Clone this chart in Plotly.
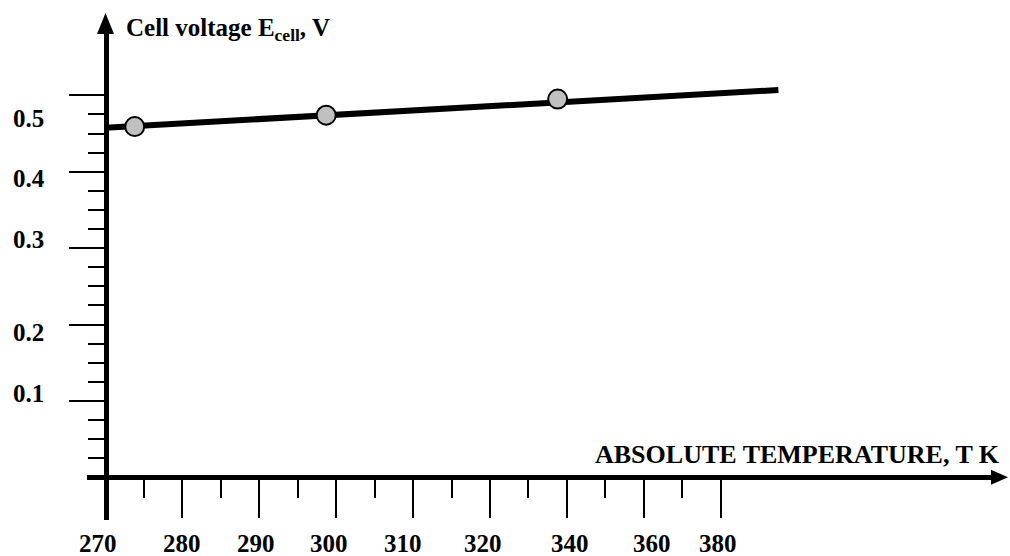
import plotly.graph_objects as go

# ---------------- data ----------------
temperature_k = [273.8, 298.7, 328.8]          # measured points (axis units)
cell_voltage_v = [0.459, 0.474, 0.495]
fit_temperature_k = [270.0, 357.5]              # straight line drawn through the points
fit_voltage_v = [0.4576, 0.5069]

x_tick_labels = ["270", "280", "290", "300", "310", "320", "340", "360", "380"]
y_tick_labels = ["0.1", "0.2", "0.3", "0.4", "0.5"]

x_major_ticks = [280, 290, 300, 310, 320, 330, 340, 350]
x_minor_ticks = [275, 285, 295, 305, 315, 325, 335, 345]
y_major_ticks = [0.1, 0.2, 0.3, 0.4, 0.5]
y_minor_ticks = [0.025, 0.05, 0.075, 0.125, 0.15, 0.175, 0.225, 0.25, 0.275,
                 0.325, 0.35, 0.375, 0.425, 0.45, 0.475]

# where the (hand-placed) labels sit on the drawing, in axis units
x_label_at = [269.0, 280.0, 289.6, 299.1, 308.7, 319.1, 330.4, 341.1, 349.7]
y_label_at = [0.110, 0.189, 0.311, 0.391, 0.470]

# ---------------- layout geometry ----------------
W, H = 1010, 556
X0_PX, X_PX_PER_UNIT = 105.5, 7.69     # 270 K sits on the vertical axis
Y0_PX, Y_PX_PER_UNIT = 477.3, 764.0    # 0 V sits on the horizontal axis
X_LEFT_PX, X_RIGHT_PX = 87.3, 993.0
Y_TOP_PX, Y_BOTTOM_PX = 33.0, 520.0

def px_x(p):
    return p / W

def px_y(p):
    return 1 - p / H

x_range = [270 + (X_LEFT_PX - X0_PX) / X_PX_PER_UNIT, 270 + (X_RIGHT_PX - X0_PX) / X_PX_PER_UNIT]
y_range = [(Y0_PX - Y_BOTTOM_PX) / Y_PX_PER_UNIT, (Y0_PX - Y_TOP_PX) / Y_PX_PER_UNIT]

FONT = "Liberation Serif, Times New Roman, serif"

fig = go.Figure()
fig.add_trace(go.Scatter(
    x=fit_temperature_k, y=fit_voltage_v, mode="lines",
    line=dict(color="black", width=6), hoverinfo="skip", showlegend=False,
))
fig.add_trace(go.Scatter(
    x=temperature_k, y=cell_voltage_v, mode="markers",
    marker=dict(size=19, color="#c0c0c0", line=dict(color="black", width=2)),
    showlegend=False,
))

fig.update_layout(
    width=W, height=H, margin=dict(l=0, r=0, t=0, b=0),
    paper_bgcolor="white", plot_bgcolor="white",
    font=dict(family=FONT, color="black"),
    xaxis=dict(
        domain=[px_x(X_LEFT_PX), px_x(X_RIGHT_PX)], range=x_range,
        anchor="free", position=px_y(Y0_PX),
        showline=True, linewidth=5, linecolor="black",
        showgrid=False, zeroline=False, showticklabels=False,
        tickmode="array", tickvals=x_major_ticks, ticks="outside",
        ticklen=38, tickwidth=2, tickcolor="black",
        minor=dict(tickmode="array", tickvals=x_minor_ticks, ticks="outside",
                   ticklen=18, tickwidth=2, tickcolor="black", showgrid=False),
        fixedrange=True,
    ),
    yaxis=dict(
        domain=[px_y(Y_BOTTOM_PX), px_y(Y_TOP_PX)], range=y_range,
        anchor="free", position=px_x(X0_PX),
        showline=True, linewidth=5, linecolor="black",
        showgrid=False, zeroline=False, showticklabels=False,
        tickmode="array", tickvals=y_major_ticks, ticks="outside",
        ticklen=35, tickwidth=2, tickcolor="black",
        minor=dict(tickmode="array", tickvals=y_minor_ticks, ticks="outside",
                   ticklen=16, tickwidth=2, tickcolor="black", showgrid=False),
        fixedrange=True,
    ),
)

# arrow heads
fig.add_shape(type="path", xref="paper", yref="paper", line=dict(width=0), fillcolor="black",
              path=f"M {px_x(X0_PX)},{px_y(13)} L {px_x(X0_PX - 8.5)},{px_y(34)} "
                   f"L {px_x(X0_PX + 8.5)},{px_y(34)} Z")
fig.add_shape(type="path", xref="paper", yref="paper", line=dict(width=0), fillcolor="black",
              path=f"M {px_x(1008)},{px_y(Y0_PX)} L {px_x(991)},{px_y(Y0_PX - 7.5)} "
                   f"L {px_x(991)},{px_y(Y0_PX + 7.5)} Z")

# tick labels
for lab, xv in zip(x_tick_labels, x_label_at):
    fig.add_annotation(x=xv, y=px_y(543), xref="x", yref="paper", text=f"<b>{lab}</b>",
                       showarrow=False, xanchor="center", yanchor="middle",
                       font=dict(size=25, family=FONT, color="black"))
for lab, yv in zip(y_tick_labels, y_label_at):
    fig.add_annotation(x=px_x(11), y=yv, xref="paper", yref="y", text=f"<b>{lab}</b>",
                       showarrow=False, xanchor="left", yanchor="middle",
                       font=dict(size=25, family=FONT, color="black"))

# axis titles
fig.add_annotation(x=px_x(124), y=px_y(29), xref="paper", yref="paper",
                   text="<b>Cell voltage E<sub>cell</sub>, V</b>", showarrow=False,
                   xanchor="left", yanchor="middle",
                   font=dict(size=25, family=FONT, color="black"))
fig.add_annotation(x=px_x(1002), y=px_y(454), xref="paper", yref="paper",
                   text="<b>ABSOLUTE TEMPERATURE, T K</b>", showarrow=False,
                   xanchor="right", yanchor="middle",
                   font=dict(size=26, family=FONT, color="black"))

fig.write_html("out.html", config={"displayModeBar": False},
               post_script="document.body.style.margin='0px';document.body.style.overflow='hidden';")
